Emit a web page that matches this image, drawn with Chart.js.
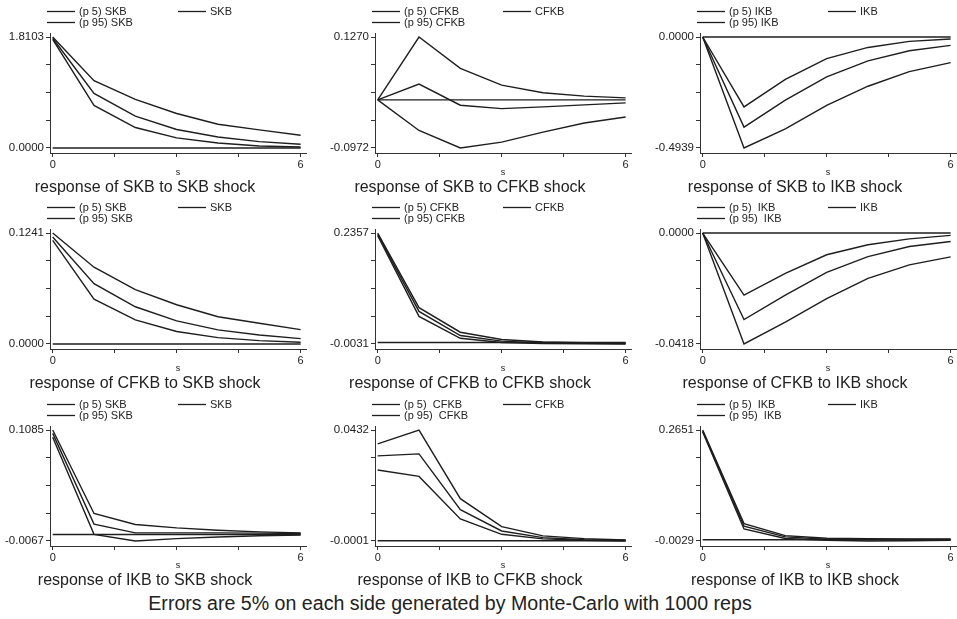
<!DOCTYPE html>
<html>
<head>
<meta charset="utf-8">
<script src="https://cdn.jsdelivr.net/npm/chart.js@4.4.1/dist/chart.umd.min.js"></script>
<style>
  body { margin: 0; background: #fff; width: 957px; height: 619px; overflow: hidden; position: relative;
         font-family: "Liberation Sans", Arial, sans-serif; }
  canvas.panel { position: absolute; }
  #note { position: absolute; left: 0; width: 900px; top: 593px; line-height: 20px; text-align: center;
          font-size: 19.6px; color: #222; }
</style>
</head>
<body>
<div id="note">Errors are 5% on each side generated by Monte-Carlo with 1000 reps</div>
<script>
// horizon steps
var steps = [0, 1, 2, 3, 4, 5, 6]
var xTicks = [0, 1.5, 3, 4.5, 6]
var varNames = ['SKB', 'CFKB', 'IKB']

// response of SKB
var skbSkbP5 = [1.770, 0.695, 0.334, 0.164, 0.082, 0.033, 0.016]
var skbSkb = [1.790, 0.891, 0.520, 0.301, 0.180, 0.104, 0.060]
var skbSkbP95 = [1.8103, 1.099, 0.793, 0.563, 0.388, 0.295, 0.208]

var skbCfkbP5 = [0, -0.0618, -0.0972, -0.0855, -0.0652, -0.0468, -0.0346]
var skbCfkb = [0, 0.0319, -0.0108, -0.0176, -0.0142, -0.0101, -0.0061]
var skbCfkbP95 = [0, 0.1270, 0.0638, 0.0299, 0.0143, 0.0075, 0.0041]

var skbIkbP5 = [0, -0.4939, -0.409, -0.304, -0.219, -0.154, -0.114]
var skbIkb = [0, -0.401, -0.281, -0.177, -0.106, -0.0614, -0.0374]
var skbIkbP95 = [0, -0.311, -0.189, -0.0958, -0.0464, -0.0195, -0.009]

// response of CFKB
var cfkbSkbP5 = [0.1159, 0.0502, 0.0270, 0.0139, 0.0071, 0.0038, 0.0019]
var cfkbSkb = [0.1196, 0.0675, 0.0416, 0.0259, 0.0158, 0.0101, 0.0060]
var cfkbSkbP95 = [0.1241, 0.0859, 0.0607, 0.0439, 0.0304, 0.0232, 0.0161]

var cfkbCfkbP5 = [0.2300, 0.0562, 0.0092, 0.0001, -0.0022, -0.0029, -0.0031]
var cfkbCfkb = [0.2328, 0.0669, 0.0150, 0.0030, -0.0008, -0.0018, -0.0020]
var cfkbCfkbP95 = [0.2357, 0.0750, 0.0222, 0.0066, 0.0012, -0.0005, -0.0012]

var cfkbIkbP5 = [0, -0.0418, -0.0336, -0.0247, -0.0171, -0.0120, -0.0090]
var cfkbIkb = [0, -0.0326, -0.0234, -0.0148, -0.0089, -0.0051, -0.0032]
var cfkbIkbP95 = [0, -0.0234, -0.0152, -0.0082, -0.0044, -0.0022, -0.0009]

// response of IKB
var ikbSkbP5 = [0.1010, 0.0002, -0.0067, -0.0043, -0.0026, -0.0012, -0.0005]
var ikbSkb = [0.1050, 0.0108, 0.0017, 0.0017, 0.0017, 0.0015, 0.0010]
var ikbSkbP95 = [0.1085, 0.0218, 0.0104, 0.0069, 0.0045, 0.0027, 0.0017]

var ikbCfkbP5 = [0.0276, 0.0251, 0.0085, 0.0025, 0.0007, 0.0002, -0.0001]
var ikbCfkb = [0.0331, 0.0339, 0.0121, 0.0038, 0.0012, 0.0004, 0.0002]
var ikbCfkbP95 = [0.0378, 0.0432, 0.0164, 0.0055, 0.0019, 0.0008, 0.0003]

var ikbIkbP5 = [0.2602, 0.0262, 0.0030, -0.0012, -0.0029, -0.0022, -0.0015]
var ikbIkb = [0.2627, 0.0326, 0.0069, 0.0011, 0.0005, 0.0005, 0.0008]
var ikbIkbP95 = [0.2651, 0.0390, 0.0101, 0.0036, 0.0028, 0.0022, 0.0020]

// y axis end labels, row by row
var yTop = [1.8103, 0.1270, 0.0000, 0.1241, 0.2357, 0.0000, 0.1085, 0.0432, 0.2651]
var yBottom = [0.0000, -0.0972, -0.4939, 0.0000, -0.0031, -0.0418, -0.0067, -0.0001, -0.0029]

var legendP5 = ['(p 5) SKB', '(p 5) CFKB', '(p 5) IKB', '(p 5) SKB', '(p 5) CFKB', '(p 5)  IKB',
                '(p 5) SKB', '(p 5)  CFKB', '(p 5)  IKB']
var legendP95 = ['(p 95) SKB', '(p 95) CFKB', '(p 95) IKB', '(p 95) SKB', '(p 95) CFKB', '(p 95)  IKB',
                 '(p 95) SKB', '(p 95)  CFKB', '(p 95)  IKB']

var bands = [
    [skbSkbP5, skbSkb, skbSkbP95], [skbCfkbP5, skbCfkb, skbCfkbP95], [skbIkbP5, skbIkb, skbIkbP95],
    [cfkbSkbP5, cfkbSkb, cfkbSkbP95], [cfkbCfkbP5, cfkbCfkb, cfkbCfkbP95], [cfkbIkbP5, cfkbIkb, cfkbIkbP95],
    [ikbSkbP5, ikbSkb, ikbSkbP95], [ikbCfkbP5, ikbCfkb, ikbCfkbP95], [ikbIkbP5, ikbIkb, ikbIkbP95]
]

var FONT = '"Liberation Sans", Arial, sans-serif'
var INK = '#1e1e1e'
Chart.defaults.font.family = FONT
Chart.defaults.color = '#222'

// stata-style legend (two columns) above the plot and caption below it
var irfDecor = {
    id: 'irfDecor',
    afterDraw: function (chart, args, opts) {
        var ctx = chart.ctx
        var area = chart.chartArea
        ctx.save()
        ctx.font = '11px ' + FONT
        ctx.textBaseline = 'middle'
        ctx.fillStyle = '#222'
        ctx.strokeStyle = INK
        ctx.lineWidth = 1.3
        var n = 0
        chart.data.datasets.forEach(function (ds) {
            if (!ds.label) return
            var col = n == 1 ? 1 : 0
            var row = n == 2 ? 1 : 0
            var x = area.left - 3 + col * 131
            var y = Math.round(area.top - 22 + row * 10.5) + 0.5
            ctx.beginPath()
            ctx.moveTo(x, y)
            ctx.lineTo(x + 28, y)
            ctx.stroke()
            ctx.fillText(ds.label, x + 32, y)
            n++
        })
        ctx.font = '16px ' + FONT
        ctx.textAlign = 'center'
        ctx.fillText(opts.caption, (area.left + area.right) / 2 - 33, area.bottom + 35)
        ctx.restore()
    }
}

function points(arr) {
    return steps.map(function (s, i) { return { x: s, y: arr[i] } })
}

function lineSet(label, arr) {
    return {
        label: label,
        data: points(arr),
        borderColor: INK,
        borderWidth: 1.4,
        pointRadius: 0,
        tension: 0,
        fill: false
    }
}

var colLeft = [0, 325, 650]
var rowTop = [0, 196, 393]

for (var k = 0; k < 9; k++) {
    var r = Math.floor(k / 3)
    var c = k % 3
    var canvas = document.createElement('canvas')
    canvas.className = 'panel'
    canvas.width = 316
    canvas.height = 196
    canvas.style.left = colLeft[c] + 'px'
    canvas.style.top = rowTop[r] + 'px'
    document.body.appendChild(canvas)

    var lo = yBottom[k]
    var hi = yTop[k]
    var span = hi - lo

    new Chart(canvas, {
        type: 'line',
        data: {
            datasets: [
                lineSet(legendP5[k], bands[k][0]),
                lineSet(varNames[c], bands[k][1]),
                lineSet(legendP95[k], bands[k][2]),
                lineSet(null, [0, 0, 0, 0, 0, 0, 0])
            ]
        },
        options: {
            responsive: false,
            animation: false,
            layout: { padding: { top: 33, right: 10, bottom: 19, left: 0 } },
            plugins: {
                legend: { display: false },
                tooltip: { enabled: false },
                irfDecor: { caption: 'response of ' + varNames[r] + ' to ' + varNames[c] + ' shock' }
            },
            scales: {
                x: {
                    type: 'linear',
                    min: -0.065,
                    max: 6.13,
                    afterBuildTicks: function (s) {
                        s.ticks = xTicks.map(function (v) { return { value: v } })
                    },
                    afterFit: function (s) { s.height = 24 },
                    ticks: {
                        autoSkip: false,
                        maxRotation: 0,
                        padding: 1,
                        font: { size: 11 },
                        callback: function (v) { return (v == 0 || v == 6) ? String(v) : '' }
                    },
                    grid: { drawOnChartArea: false, tickLength: 4, color: '#333' },
                    border: { color: '#333' },
                    title: { display: true, text: 's', font: { size: 9, lineHeight: 1 }, padding: 0 }
                },
                y: {
                    min: lo - 0.0453 * span,
                    max: hi + 0.0362 * span,
                    afterBuildTicks: (function (lo, span) {
                        return function (s) {
                            s.ticks = [0, 1, 2, 3, 4].map(function (i) { return { value: lo + i * span / 4 } })
                        }
                    })(lo, span),
                    afterFit: function (s) { s.width = 50 },
                    ticks: {
                        autoSkip: false,
                        padding: 2,
                        font: { size: 11.5 },
                        callback: function (v, i) { return (i == 0 || i == 4) ? v.toFixed(4) : '' }
                    },
                    grid: { drawOnChartArea: false, tickLength: 4, color: '#333' },
                    border: { color: '#333' }
                }
            }
        },
        plugins: [irfDecor]
    })
}
</script>
</body>
</html>
